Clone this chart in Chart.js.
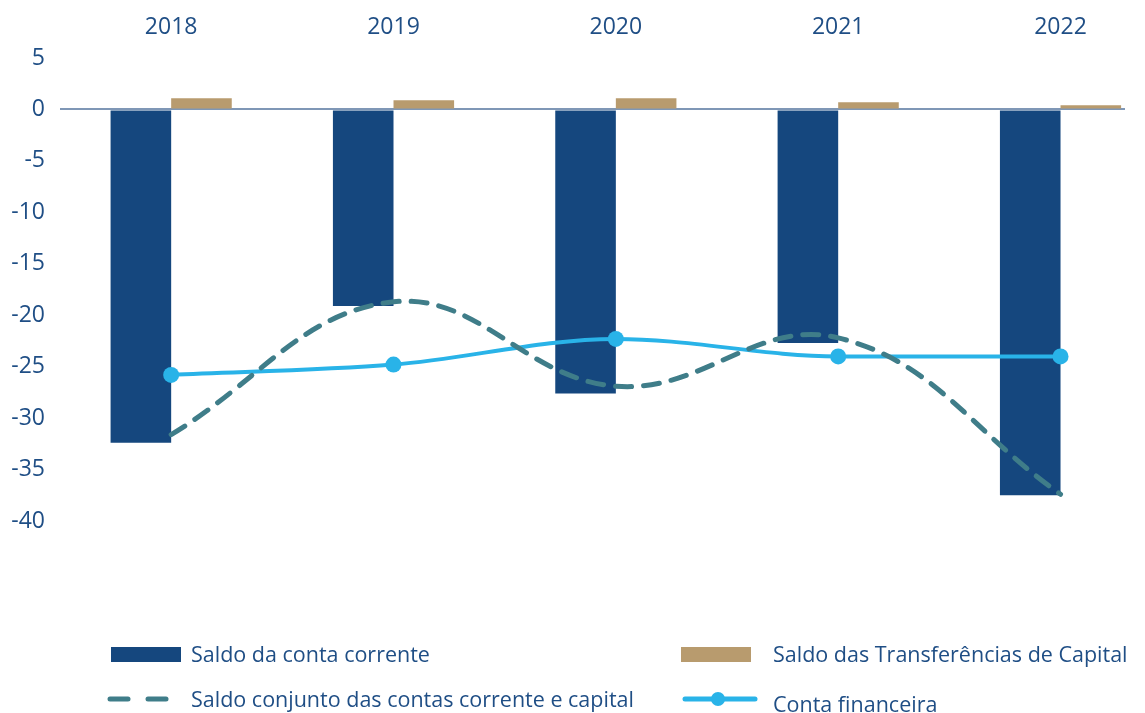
<!DOCTYPE html>
<html>
<head>
<meta charset="utf-8">
<script src="https://cdn.jsdelivr.net/npm/chart.js"></script>
<style>
  body { margin: 0; background: #fff; font-family: "Open Sans", sans-serif; }
  #wrap { position: relative; width: 1145px; height: 713px; }
  canvas { position: absolute; left: 0; top: 0; }
  .leg { position: absolute; color: #1f4e85; font-size: 21.5px; line-height: 24px; white-space: nowrap; }
  .sw { position: absolute; }
</style>
</head>
<body>
<div id="wrap">
  <canvas id="myChart" width="1145" height="713"></canvas>
  <div class="sw" style="left:111px;top:647px;width:70px;height:15px;background:#15477e"></div>
  <div class="leg" style="left:191px;top:642px">Saldo da conta corrente</div>
  <div class="sw" style="left:681px;top:647px;width:70px;height:15px;background:#b89b6e"></div>
  <div class="leg" style="left:773px;top:642px">Saldo das Transferências de Capital</div>
  <canvas id="leg3" width="70" height="20" style="left:105px;top:689px"></canvas>
  <div class="leg" style="left:191px;top:687px">Saldo conjunto das contas corrente e capital</div>
  <canvas id="leg4" width="80" height="20" style="left:680px;top:689px"></canvas>
  <div class="leg" style="left:773px;top:692px">Conta financeira</div>
</div>
<script>
var anos = ["2018", "2019", "2020", "2021", "2022"];
var contaCorrente = [-32.4, -19.1, -27.6, -22.7, -37.5];
var transfCapital = [1.1, 0.9, 1.1, 0.7, 0.4];
var saldoConjunto = [-31.6, -18.7, -26.9, -22.2, -37.4];
var contaFinanceira = [-25.8, -24.8, -22.3, -24.0, -24.0];

function pts(arr) {
  return arr.map(function (v, i) { return { x: i, y: v }; });
}

var txt = "#1f4e85";

var ctx = document.getElementById("myChart").getContext("2d");
var myChart = new Chart(ctx, {
  type: "bar",
  data: {
    datasets: [
      {
        label: "Saldo da conta corrente",
        data: pts(contaCorrente),
        backgroundColor: "#15477e",
        categoryPercentage: 0.545,
        barPercentage: 1.0,
        order: 3
      },
      {
        label: "Saldo das Transferências de Capital",
        data: pts(transfCapital),
        backgroundColor: "#b89b6e",
        categoryPercentage: 0.545,
        barPercentage: 1.0,
        order: 3
      },
      {
        type: "line",
        label: "Saldo conjunto das contas corrente e capital",
        data: pts(saldoConjunto),
        borderColor: "#3f7d89",
        borderWidth: 5,
        borderDash: [16, 12],
        borderCapStyle: "round",
        pointRadius: 0,
        tension: 0.4,
        fill: false,
        order: 1
      },
      {
        type: "line",
        label: "Conta financeira",
        data: pts(contaFinanceira),
        borderColor: "#29b3e8",
        backgroundColor: "#29b3e8",
        borderWidth: 4,
        pointRadius: 8,
        pointBorderWidth: 0,
        cubicInterpolationMode: "monotone",
        fill: false,
        order: 2
      }
    ]
  },
  options: {
    responsive: false,
    animation: false,
    layout: { padding: { left: 0, right: 20, top: 0, bottom: 192 } },
    plugins: { legend: { display: false }, tooltip: { enabled: false } },
    scales: {
      x: {
        type: "linear",
        position: "top",
        offset: false,
        min: -0.5,
        max: 4.29,
        afterFit: function (s) { s.height = 58; },
        afterBuildTicks: function (s) {
          s.ticks = anos.map(function (a, i) { return { value: i }; });
        },
        ticks: {
          color: txt,
          font: { family: "Open Sans", size: 23 },
          padding: 17,
          maxRotation: 0,
          callback: function (v) { return anos[v]; }
        },
        grid: { display: false, drawTicks: false, offset: false },
        border: { display: false }
      },
      y: {
        min: -40,
        max: 5,
        afterFit: function (s) { s.width = 60; },
        ticks: {
          stepSize: 5,
          color: txt,
          font: { family: "Open Sans", size: 23 },
          padding: 15
        },
        grid: {
          drawTicks: false,
          lineWidth: 2,
          color: function (c) { return c.tick && c.tick.value === 0 ? "#7f97b6" : "rgba(0,0,0,0)"; }
        },
        border: { display: false }
      }
    }
  }
});

// legend symbols for the line series
var l3 = document.getElementById("leg3").getContext("2d");
l3.strokeStyle = "#3f7d89";
l3.lineWidth = 5;
l3.lineCap = "round";
l3.beginPath(); l3.moveTo(5, 10); l3.lineTo(23, 10); l3.stroke();
l3.beginPath(); l3.moveTo(43, 10); l3.lineTo(61, 10); l3.stroke();

var l4 = document.getElementById("leg4").getContext("2d");
l4.strokeStyle = "#29b3e8";
l4.fillStyle = "#29b3e8";
l4.lineWidth = 5;
l4.lineCap = "round";
l4.beginPath(); l4.moveTo(5, 10); l4.lineTo(75, 10); l4.stroke();
l4.beginPath(); l4.arc(38, 10, 7, 0, Math.PI * 2); l4.fill();
</script>
</body>
</html>
